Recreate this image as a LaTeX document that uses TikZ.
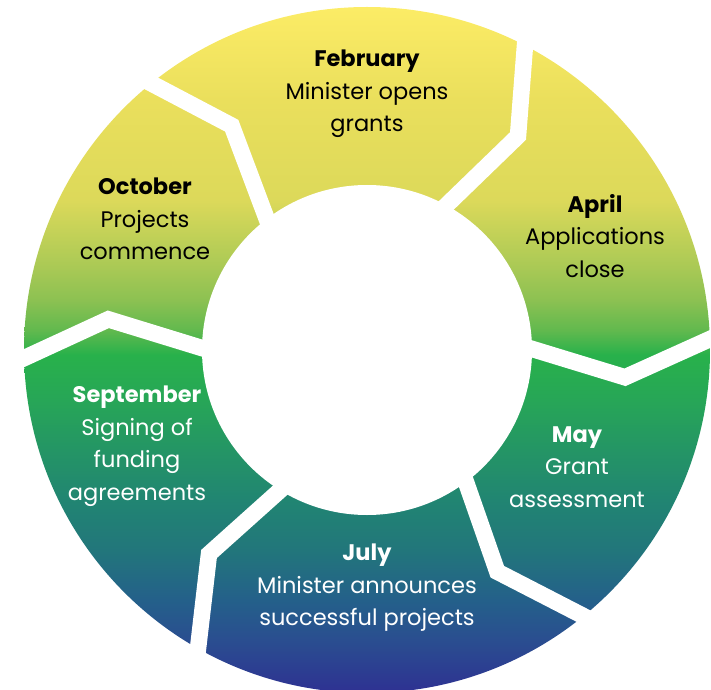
\documentclass[tikz,border=0pt]{standalone}
\usepackage{fontspec}
\setmainfont{Poppins}
\usetikzlibrary{calc}
\definecolor{g0}{HTML}{2E3192}
\definecolor{g1}{HTML}{2A4E90}
\definecolor{g2}{HTML}{24608A}
\definecolor{g3}{HTML}{22767B}
\definecolor{g4}{HTML}{218572}
\definecolor{g5}{HTML}{249565}
\definecolor{g6}{HTML}{27A657}
\definecolor{g7}{HTML}{28B14B}
\definecolor{g8}{HTML}{62B94E}
\definecolor{g9}{HTML}{8CC152}
\definecolor{g10}{HTML}{A9C955}
\definecolor{g11}{HTML}{DCD95A}
\definecolor{g12}{HTML}{EADF5C}
\definecolor{g13}{HTML}{FCEC66}
\pgfdeclareverticalshading{ringgrad}{100bp}{color(0bp)=(g0); color(25bp)=(g0); color(28.86bp)=(g1); color(31.78bp)=(g2); color(35.42bp)=(g3); color(39.07bp)=(g4); color(42.71bp)=(g5); color(46.36bp)=(g6); color(49.64bp)=(g7); color(51.46bp)=(g8); color(53.64bp)=(g9); color(55.98bp)=(g10); color(60.93bp)=(g11); color(68.22bp)=(g12); color(75bp)=(g13); color(100bp)=(g13)}
\tikzset{
  gapline/.style={draw=white, line width=16.5pt, line join=miter, miter limit=10},
  lbl/.style={align=center, inner sep=0pt, font=\fontsize{22.5}{32.5}\selectfont},
}
\newcommand{\gapdraw}[3]{\draw[gapline] ($(#2)!1.3!(#1)$) -- (#2) -- ($(#2)!1.3!(#3)$);}
\begin{document}
\begin{tikzpicture}[x=1pt,y=1pt]
\useasboundingbox (0,0) rectangle (711,689);
\clip (0,0) rectangle (711,689);
\coordinate (c) at (367,339);
\shade[shading=ringgrad] (c) circle[radius=343pt];
% gaps: outer, bend, inner
\coordinate (o1) at (150,606.3); \coordinate (b1) at (231.7,563.3); \coordinate (i1) at (266,472);
\coordinate (o2) at (525,644);   \coordinate (b2) at (518,553);     \coordinate (i2) at (446.7,484);
\coordinate (o3) at (710,350);   \coordinate (b3) at (625,311.7);   \coordinate (i3) at (530,340.7);
\coordinate (o4) at (583.3,73);  \coordinate (b4) at (497.3,117.3); \coordinate (i4) at (465,209.7);
\coordinate (o5) at (199,49);    \coordinate (b5) at (209,135);     \coordinate (i5) at (282.3,200.7);
\coordinate (o6) at (25,331.3);  \coordinate (b6) at (108.3,369.7); \coordinate (i6) at (205,340);
\gapdraw{o1}{b1}{i1}
\gapdraw{o2}{b2}{i2}
\gapdraw{o3}{b3}{i3}
\gapdraw{o4}{b4}{i4}
\gapdraw{o5}{b5}{i5}
\gapdraw{o6}{b6}{i6}
\fill[white] (c) circle[radius=165pt];
\node[lbl, text=black] (feb) at (367,595) {\textbf{February}\\Minister opens\\grants};
\node[lbl, text=black] (apr) at (595,453) {\textbf{April}\\Applications\\close};
\node[lbl, text=white] (may) at (577,222) {\textbf{May}\\Grant\\assessment};
\node[lbl, text=white] (jul) at (367,101) {\textbf{July}\\Minister announces\\successful projects};
\node[lbl, text=white] (sep) at (137,243) {\textbf{September}\\Signing of\\funding\\agreements};
\node[lbl, text=black] (oct) at (145,470) {\textbf{October}\\Projects\\commence};
\end{tikzpicture}
\end{document}
